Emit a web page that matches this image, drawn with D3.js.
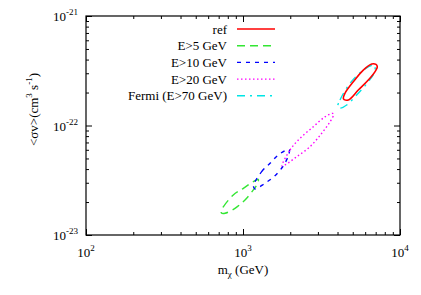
<!DOCTYPE html>
<meta charset="utf-8">
<style>
body { margin: 0; background: #fff; }
.axis path { display: none; }
.axis line { stroke: #000; }
</style>
<body>
<script src="https://cdn.jsdelivr.net/npm/d3@7"></script>
<script>
// contour points: [m_chi (GeV), <sigma v> (cm^3 s^-1)]
var refPts = [[4365,1.75e-22],[4463,1.97e-22],[5042,2.51e-22],[5837,3.21e-22],[6603,3.65e-22],[7032,3.61e-22],
              [7168,3.44e-22],[7032,3.21e-22],[6281,2.60e-22],[5424,2.11e-22],[4685,1.71e-22]];
var e5Pts = [[729,1.69e-23],[749,1.81e-23],[867,2.32e-23],[1005,2.67e-23],[1163,3.07e-23],[1252,3.22e-23],
             [1241,2.98e-23],[1163,2.58e-23],[1030,2.09e-23],[889,1.75e-23],[768,1.58e-23],[729,1.59e-23]];
var e10Pts = [[1166,2.80e-23],[1315,3.79e-23],[1486,4.52e-23],[1678,5.38e-23],[1944,6.06e-23],[1977,5.97e-23],
              [1935,5.19e-23],[1790,4.20e-23],[1575,3.41e-23],[1380,2.97e-23],[1192,2.63e-23]];
var e20Pts = [[1772,4.27e-23],[1992,5.97e-23],[2307,7.64e-23],[2805,9.75e-23],[3329,1.20e-22],[3727,1.29e-22],
              [3770,1.25e-22],[3581,1.08e-22],[3171,8.49e-23],[2672,6.40e-23],[2198,5.19e-23],[1852,4.36e-23]];
var fermiPts = [[4010,1.48e-22],[4148,1.71e-22],[4803,2.43e-22],[5837,3.21e-22],[6761,3.57e-22],[6930,3.49e-22],
                [6830,3.00e-22],[6281,2.51e-22],[5424,1.97e-22],[4576,1.54e-22],[4148,1.44e-22]];

var seriesNames = ["ref", "E>5 GeV", "E>10 GeV", "E>20 GeV", "Fermi (E>70 GeV)"];
var seriesPts = [refPts, e5Pts, e10Pts, e20Pts, fermiPts];

var xTickExp = [2, 3, 4];
var yTickExp = [-23, -22, -21];

// styles
var FONT = "'Liberation Serif', 'Times New Roman', Times, serif";
var colors = ["#ff0000", "#33e633", "#0000ff", "#ff00ff", "#00e5e5"];
var dashes = [null, "8,5", "4,5", "1.5,2.5", "8,5,2,5"];
var widths = [1.6, 1.4, 1.4, 1.4, 1.4];

var W = 421, H = 295;
var margin = {top: 16, right: 21, bottom: 60, left: 86},
    width = W - margin.left - margin.right,
    height = H - margin.top - margin.bottom;

var x = d3.scaleLog().domain([1e2, 1e4]).range([0, width]);
var y = d3.scaleLog().domain([1e-23, 1e-21]).range([height, 0]);

var svg = d3.select("body").append("svg")
    .attr("width", W)
    .attr("height", H)
    .attr("font-family", FONT)
  .append("g")
    .attr("transform", "translate(" + margin.left + "," + margin.top + ")");

// minor + major ticks (inward on all sides)
function minors(lo, hi) {
  var out = [];
  for (var e = lo; e < hi; e++) for (var k = 2; k <= 9; k++) out.push(k * Math.pow(10, e));
  return out;
}
var xMajor = xTickExp.map(function(e) { return Math.pow(10, e); });
var yMajor = yTickExp.map(function(e) { return Math.pow(10, e); });

function addAxis(gen, tr, vals, size) {
  svg.append("g").attr("class", "axis").attr("transform", tr)
    .call(gen.tickValues(vals).tickSize(size).tickFormat(""));
}
addAxis(d3.axisBottom(x), "translate(0," + height + ")", xMajor, -6);
addAxis(d3.axisBottom(x), "translate(0," + height + ")", minors(2, 4), -3);
addAxis(d3.axisTop(x), "translate(0,0)", xMajor, -6);
addAxis(d3.axisTop(x), "translate(0,0)", minors(2, 4), -3);
addAxis(d3.axisLeft(y), "translate(0,0)", yMajor, -6);
addAxis(d3.axisLeft(y), "translate(0,0)", minors(-23, -21), -3);
addAxis(d3.axisRight(y), "translate(" + width + ",0)", yMajor, -6);
addAxis(d3.axisRight(y), "translate(" + width + ",0)", minors(-23, -21), -3);

// frame
svg.append("rect")
    .attr("x", 0).attr("y", 0)
    .attr("width", width).attr("height", height)
    .attr("fill", "none").attr("stroke", "#000").attr("stroke-width", 1.2);

// tick labels
xTickExp.forEach(function(e) {
  var t = svg.append("text")
      .attr("x", x(Math.pow(10, e)))
      .attr("y", height + 22)
      .attr("text-anchor", "middle")
      .attr("font-family", FONT)
      .style("font-size", "13px");
  t.append("tspan").text("10");
  t.append("tspan").attr("dy", -6).style("font-size", "9px").text(e);
});
yTickExp.forEach(function(e) {
  var t = svg.append("text")
      .attr("x", -8)
      .attr("y", y(Math.pow(10, e)) + 5)
      .attr("text-anchor", "end")
      .attr("font-family", FONT)
      .style("font-size", "13px");
  t.append("tspan").text("10");
  t.append("tspan").attr("dy", -6).style("font-size", "9px").text(e);
});

// axis titles
var xt = svg.append("text")
    .attr("x", width / 2).attr("y", height + 39)
    .attr("text-anchor", "middle")
    .attr("font-family", FONT)
    .style("font-size", "13px");
xt.append("tspan").text("m");
xt.append("tspan").attr("dy", 3).style("font-size", "9px").text("\u03c7");
xt.append("tspan").attr("dy", -3).text(" (GeV)");

var yt = svg.append("text")
    .attr("transform", "translate(" + (-48) + "," + (height / 2 - 16) + ") rotate(-90)")
    .attr("text-anchor", "middle")
    .attr("font-family", FONT)
    .style("font-size", "13px");
yt.append("tspan").text("<\u03c3v>(cm");
yt.append("tspan").attr("dy", -6).style("font-size", "9px").text("3");
yt.append("tspan").attr("dy", 6).text(" s");
yt.append("tspan").attr("dy", -6).style("font-size", "9px").text("-1");
yt.append("tspan").attr("dy", 6).text(")");

// contours
var line = d3.line()
    .x(function(d) { return x(d[0]); })
    .y(function(d) { return y(d[1]); })
    .curve(d3.curveCatmullRomClosed.alpha(0.5));

var order = [1, 2, 3, 4, 0];
order.forEach(function(i) {
  svg.append("path")
      .datum(seriesPts[i])
      .attr("d", line)
      .attr("fill", "none")
      .attr("stroke", colors[i])
      .attr("stroke-width", widths[i])
      .attr("stroke-dasharray", dashes[i]);
});

// legend
seriesNames.forEach(function(name, i) {
  var ly = 13 + i * 16.7;
  svg.append("text")
      .attr("x", 141).attr("y", ly + 4.5)
      .attr("text-anchor", "end")
      .attr("font-family", FONT)
      .style("font-size", "13px")
      .text(name);
  svg.append("line")
      .attr("x1", 151).attr("x2", 189)
      .attr("y1", ly).attr("y2", ly)
      .attr("stroke", colors[i])
      .attr("stroke-width", widths[i])
      .attr("stroke-dasharray", dashes[i]);
});
</script>
</body>
